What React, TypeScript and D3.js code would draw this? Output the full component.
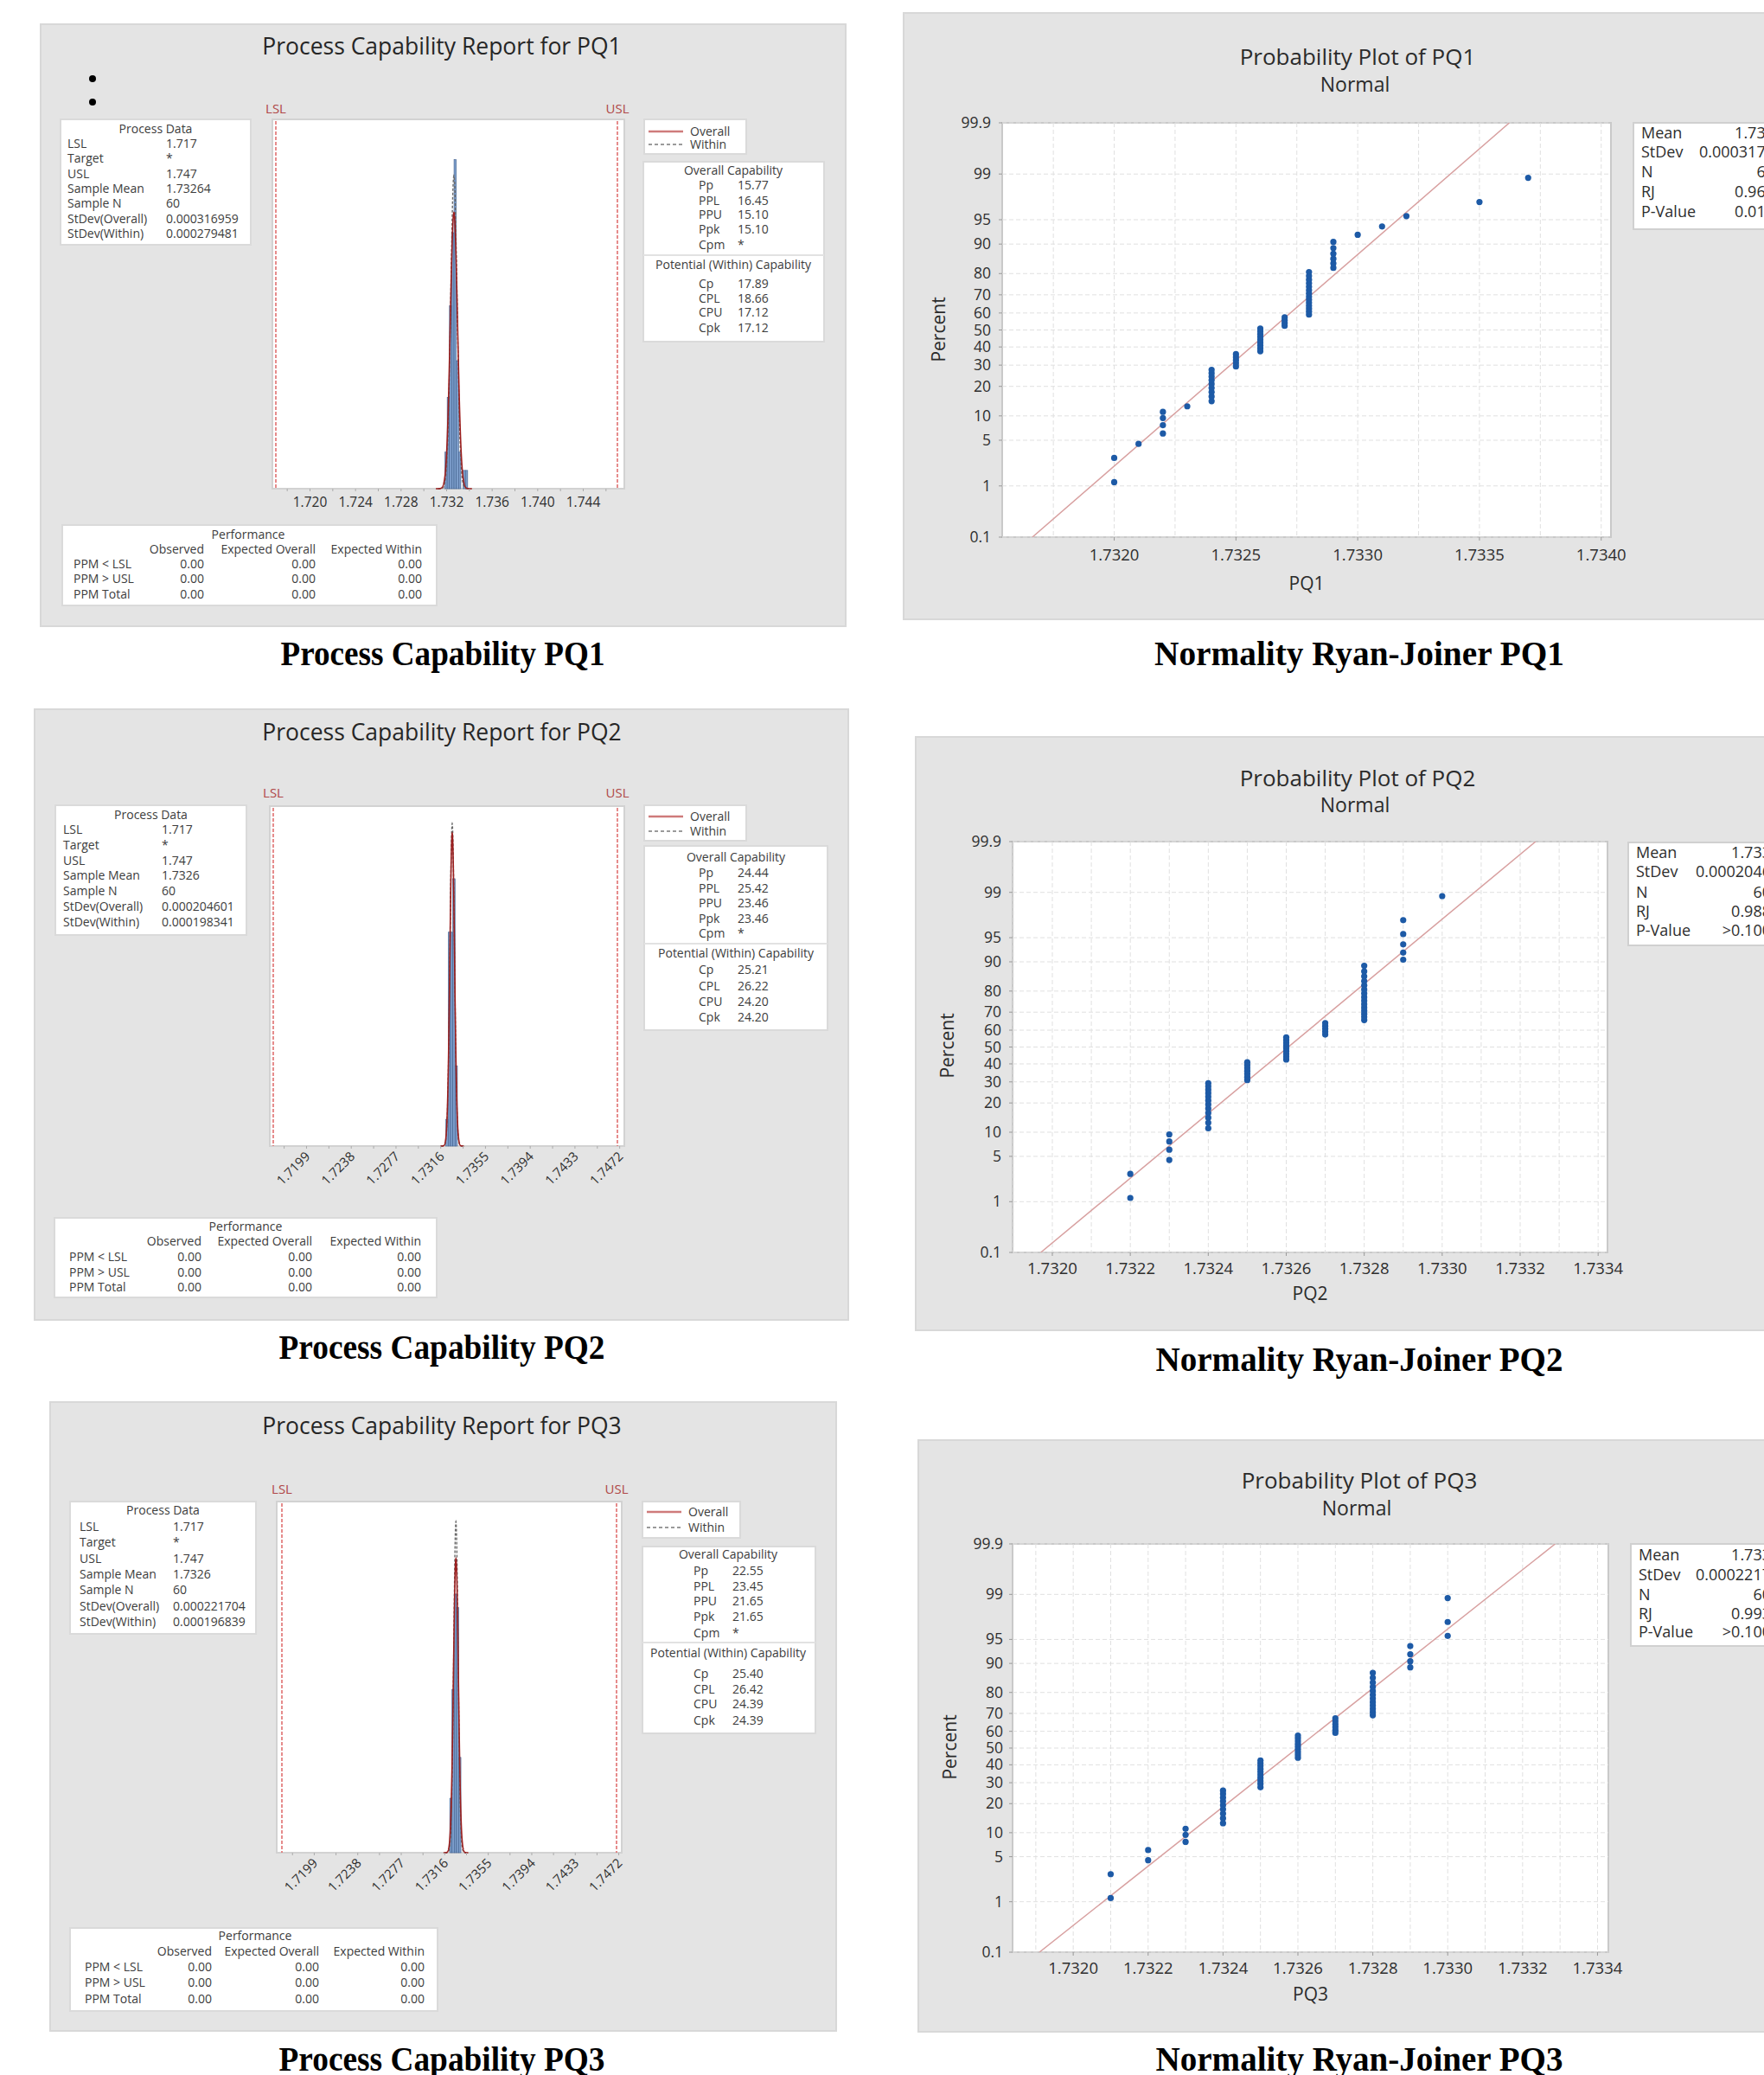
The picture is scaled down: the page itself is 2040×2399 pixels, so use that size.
import React from 'react';
import * as d3 from 'd3';

const W = 2040;
const H = 2399;
const FONT = "'Open Sans', 'Noto Sans', sans-serif";
const SERIF = "'Liberation Serif', 'Times New Roman', serif";

const PQ1_VALUES = [
  1.7320, 1.7320, 1.7321, 1.7322, 1.7322, 1.7322, 1.7322, 1.7323,
  1.7324, 1.7324, 1.7324, 1.7324, 1.7324, 1.7324, 1.7324, 1.7324, 1.7324,
  1.7325, 1.7325, 1.7325, 1.7325, 1.7325,
  1.7326, 1.7326, 1.7326, 1.7326, 1.7326, 1.7326, 1.7326, 1.7326, 1.7326,
  1.7327, 1.7327, 1.7327, 1.7327,
  1.7328, 1.7328, 1.7328, 1.7328, 1.7328, 1.7328, 1.7328, 1.7328, 1.7328, 1.7328, 1.7328, 1.7328, 1.7328, 1.7328,
  1.7329, 1.7329, 1.7329, 1.7329, 1.7329, 1.7329,
  1.7330, 1.7331, 1.7332, 1.7335, 1.7337,
];
const PQ2_VALUES = [
  1.7322, 1.7322,
  1.7323, 1.7323, 1.7323, 1.7323,
  1.7324, 1.7324, 1.7324, 1.7324, 1.7324, 1.7324, 1.7324, 1.7324, 1.7324, 1.7324, 1.7324, 1.7324,
  1.7325, 1.7325, 1.7325, 1.7325, 1.7325, 1.7325, 1.7325,
  1.7326, 1.7326, 1.7326, 1.7326, 1.7326, 1.7326, 1.7326, 1.7326, 1.7326,
  1.7327, 1.7327, 1.7327, 1.7327, 1.7327,
  1.7328, 1.7328, 1.7328, 1.7328, 1.7328, 1.7328, 1.7328, 1.7328, 1.7328, 1.7328, 1.7328, 1.7328, 1.7328, 1.7328, 1.7328,
  1.7329, 1.7329, 1.7329, 1.7329, 1.7329,
  1.7330,
];
const PQ3_VALUES = [
  1.7321, 1.7321,
  1.7322, 1.7322,
  1.7323, 1.7323, 1.7323,
  1.7324, 1.7324, 1.7324, 1.7324, 1.7324, 1.7324, 1.7324, 1.7324, 1.7324,
  1.7325, 1.7325, 1.7325, 1.7325, 1.7325, 1.7325, 1.7325, 1.7325, 1.7325, 1.7325,
  1.7326, 1.7326, 1.7326, 1.7326, 1.7326, 1.7326, 1.7326, 1.7326, 1.7326,
  1.7327, 1.7327, 1.7327, 1.7327, 1.7327, 1.7327,
  1.7328, 1.7328, 1.7328, 1.7328, 1.7328, 1.7328, 1.7328, 1.7328, 1.7328, 1.7328, 1.7328, 1.7328,
  1.7329, 1.7329, 1.7329, 1.7329,
  1.7330, 1.7330, 1.7330,
];

// ---------- text tables ----------
const PROCESS_LABELS = ['LSL', 'Target', 'USL', 'Sample Mean', 'Sample N', 'StDev(Overall)', 'StDev(Within)'];
const PQ1_PROCESS = ['1.717', '*', '1.747', '1.73264', '60', '0.000316959', '0.000279481'];
const PQ2_PROCESS = ['1.717', '*', '1.747', '1.7326', '60', '0.000204601', '0.000198341'];
const PQ3_PROCESS = ['1.717', '*', '1.747', '1.7326', '60', '0.000221704', '0.000196839'];

const OVERALL_LABELS = ['Pp', 'PPL', 'PPU', 'Ppk', 'Cpm'];
const WITHIN_LABELS = ['Cp', 'CPL', 'CPU', 'Cpk'];
const PQ1_OVERALL = ['15.77', '16.45', '15.10', '15.10', '*'];
const PQ1_WITHIN = ['17.89', '18.66', '17.12', '17.12'];
const PQ2_OVERALL = ['24.44', '25.42', '23.46', '23.46', '*'];
const PQ2_WITHIN = ['25.21', '26.22', '24.20', '24.20'];
const PQ3_OVERALL = ['22.55', '23.45', '21.65', '21.65', '*'];
const PQ3_WITHIN = ['25.40', '26.42', '24.39', '24.39'];

const PERF_COLS = ['Observed', 'Expected Overall', 'Expected Within'];
const PERF_ROWS = ['PPM < LSL', 'PPM > USL', 'PPM Total'];
const PQ1_PERF = [['0.00', '0.00', '0.00'], ['0.00', '0.00', '0.00'], ['0.00', '0.00', '0.00']];
const PQ2_PERF = [['0.00', '0.00', '0.00'], ['0.00', '0.00', '0.00'], ['0.00', '0.00', '0.00']];
const PQ3_PERF = [['0.00', '0.00', '0.00'], ['0.00', '0.00', '0.00'], ['0.00', '0.00', '0.00']];

const PQ1_HIST_TICKS = ['1.720', '1.724', '1.728', '1.732', '1.736', '1.740', '1.744'];
const PQ2_HIST_TICKS = ['1.7199', '1.7238', '1.7277', '1.7316', '1.7355', '1.7394', '1.7433', '1.7472'];
const PQ3_HIST_TICKS = ['1.7199', '1.7238', '1.7277', '1.7316', '1.7355', '1.7394', '1.7433', '1.7472'];

const HIST_BIN_START = 1.73185;
const HIST_BIN_END = 1.73405;
const HIST_BIN_STEP = 0.0002;

const STAT_LABELS = ['Mean', 'StDev', 'N', 'RJ', 'P-Value'];
const PQ1_STATS = ['1.733', '0.0003170', '60', '0.968', '0.012'];
const PQ2_STATS = ['1.733', '0.0002046', '60', '0.988', '>0.100'];
const PQ3_STATS = ['1.733', '0.0002217', '60', '0.993', '>0.100'];

const PERCENT_TICKS = [0.1, 1, 5, 10, 20, 30, 40, 50, 60, 70, 80, 90, 95, 99, 99.9];
const PP1_TICKS = [1.732, 1.7325, 1.733, 1.7335, 1.734];
const PP2_TICKS = [1.732, 1.7322, 1.7324, 1.7326, 1.7328, 1.733, 1.7332, 1.7334];
const PP3_TICKS = [1.732, 1.7322, 1.7324, 1.7326, 1.7328, 1.733, 1.7332, 1.7334];

// ---------- math helpers ----------
function normInv(p: number): number {
  const a = [-3.969683028665376e1, 2.209460984245205e2, -2.759285104469687e2, 1.38357751867269e2, -3.066479806614716e1, 2.506628277459239];
  const b = [-5.447609879822406e1, 1.615858368580409e2, -1.556989798598866e2, 6.680131188771972e1, -1.328068155288572e1];
  const c = [-7.784894002430293e-3, -3.223964580411365e-1, -2.400758277161838, -2.549732539343734, 4.374664141464968, 2.938163982698783];
  const d = [7.784695709041462e-3, 3.224671290700398e-1, 2.445134137142996, 3.754408661907416];
  const pl = 0.02425;
  let q: number, r: number;
  if (p < pl) {
    q = Math.sqrt(-2 * Math.log(p));
    return (((((c[0] * q + c[1]) * q + c[2]) * q + c[3]) * q + c[4]) * q + c[5]) / ((((d[0] * q + d[1]) * q + d[2]) * q + d[3]) * q + 1);
  }
  if (p <= 1 - pl) {
    q = p - 0.5;
    r = q * q;
    return ((((((a[0] * r + a[1]) * r + a[2]) * r + a[3]) * r + a[4]) * r + a[5]) * q) / (((((b[0] * r + b[1]) * r + b[2]) * r + b[3]) * r + b[4]) * r + 1);
  }
  q = Math.sqrt(-2 * Math.log(1 - p));
  return -(((((c[0] * q + c[1]) * q + c[2]) * q + c[3]) * q + c[4]) * q + c[5]) / ((((d[0] * q + d[1]) * q + d[2]) * q + d[3]) * q + 1);
}
const normPdf = (x: number, m: number, s: number) => Math.exp(-0.5 * ((x - m) / s) ** 2) / (s * Math.sqrt(2 * Math.PI));

// ---------- layouts ----------
const CAP_LAYOUTS = [
  {
    bg: [47, 28, 931, 696], titleX: 511, titleY: 63, bullets: true,
    pd: { x: 70, y: 138, w: 220, h: 145, headY: 154, rowY0: 171, rowDy: 17.3, labelX: 78, valueX: 192 },
    plot: { x: 315, y: 138, w: 407, h: 427, lslX: 319, uslX: 714, peakFrac: 0.848, specLabelY: 131, tickLabelY: 586, rotate: false },
    legend: { x: 745, y: 138, w: 118, h: 40, y1: 152, y2: 167, lx0: 750, lx1: 790, tx: 798 },
    cap: { x: 744, y: 187, w: 209, h: 208, head1: 202, rows1: [219, 237, 253, 270, 288], sep: 295, head2: 311, rows2: [333, 350, 366, 384], labelX: 808, valueX: 853, cx: 848 },
    perf: { x: 72, y: 607, w: 433, h: 93, titleX: 287, titleY: 623, headY: 640, rowsY: [657, 674, 692], cols: [236, 365, 488], labelX: 85 },
    caption: { x: 512, y: 769, len: 375 },
  },
  {
    bg: [40, 820, 941, 706], titleX: 511, titleY: 856, bullets: false,
    pd: { x: 64, y: 931, w: 221, h: 150, headY: 947, rowY0: 964, rowDy: 17.8, labelX: 73, valueX: 187 },
    plot: { x: 312, y: 932, w: 410, h: 393, lslX: 316, uslX: 714, peakFrac: 0.949, specLabelY: 922, tickLabelY: 0, rotate: true },
    legend: { x: 745, y: 931, w: 118, h: 41, y1: 944, y2: 961, lx0: 750, lx1: 790, tx: 798 },
    cap: { x: 745, y: 978, w: 212, h: 213, head1: 996, rows1: [1014, 1032, 1049, 1067, 1084], sep: 1091, head2: 1107, rows2: [1126, 1145, 1163, 1181], labelX: 808, valueX: 853, cx: 851 },
    perf: { x: 63, y: 1408, w: 442, h: 92, titleX: 284, titleY: 1423, headY: 1440, rowsY: [1458, 1476, 1493], cols: [233, 361, 487], labelX: 80 },
    caption: { x: 511, y: 1571, len: 377 },
  },
  {
    bg: [58, 1621, 909, 727], titleX: 511, titleY: 1658, bullets: false,
    pd: { x: 81, y: 1736, w: 215, h: 153, headY: 1751, rowY0: 1770, rowDy: 18.3, labelX: 92, valueX: 200 },
    plot: { x: 320, y: 1736, w: 399, h: 406, lslX: 326, uslX: 713, peakFrac: 0.943, specLabelY: 1727, tickLabelY: 0, rotate: true },
    legend: { x: 743, y: 1736, w: 113, h: 42, y1: 1748, y2: 1766, lx0: 748, lx1: 788, tx: 796 },
    cap: { x: 743, y: 1788, w: 200, h: 216, head1: 1802, rows1: [1821, 1839, 1856, 1874, 1893], sep: 1899, head2: 1916, rows2: [1940, 1958, 1975, 1994], labelX: 802, valueX: 847, cx: 842 },
    perf: { x: 81, y: 2229, w: 425, h: 96, titleX: 295, titleY: 2243, headY: 2261, rowsY: [2279, 2297, 2316], cols: [245, 369, 491], labelX: 98 },
    caption: { x: 511, y: 2394, len: 377 },
  },
];

const PROB_LAYOUTS = [
  {
    bg: [1045, 15, 995, 701], titleX: 1570, titleY: 75, normalY: 106,
    frame: { x: 1159, y: 142, w: 704, h: 479 }, xDomain: [1.73154, 1.73404], minorStep: 0.00025,
    tickLabelY: 648, axisTitleY: 682, percentX: 1093, percentY: 381, yLabelX: 1146,
    stats: { x: 1889, y: 142, w: 170, h: 123, rowsY: [160, 182, 205, 228, 251], labelX: 1898, valueX: 2052 },
    caption: { x: 1572, y: 769, len: 474 },
  },
  {
    bg: [1059, 852, 981, 686], titleX: 1570, titleY: 909, normalY: 939,
    frame: { x: 1171, y: 973, w: 688, h: 475 }, xDomain: [1.731898, 1.733424], minorStep: 0.0001,
    tickLabelY: 1473, axisTitleY: 1503, percentX: 1103, percentY: 1209, yLabelX: 1158,
    stats: { x: 1883, y: 974, w: 170, h: 119, rowsY: [992, 1014, 1038, 1060, 1082], labelX: 1892, valueX: 2048 },
    caption: { x: 1572, y: 1585, len: 471 },
  },
  {
    bg: [1062, 1665, 978, 684], titleX: 1572, titleY: 1721, normalY: 1752,
    frame: { x: 1171, y: 1785, w: 689, h: 472 }, xDomain: [1.731838, 1.733429], minorStep: 0.0001,
    tickLabelY: 2282, axisTitleY: 2313, percentX: 1106, percentY: 2020, yLabelX: 1160,
    stats: { x: 1886, y: 1785, w: 170, h: 118, rowsY: [1804, 1827, 1850, 1872, 1893], labelX: 1895, valueX: 2048 },
    caption: { x: 1572, y: 2394, len: 471 },
  },
];

const CAP_PANELS = [
  { name: 'PQ1', values: PQ1_VALUES, process: PQ1_PROCESS, overall: PQ1_OVERALL, within: PQ1_WITHIN, perf: PQ1_PERF, ticks: PQ1_HIST_TICKS },
  { name: 'PQ2', values: PQ2_VALUES, process: PQ2_PROCESS, overall: PQ2_OVERALL, within: PQ2_WITHIN, perf: PQ2_PERF, ticks: PQ2_HIST_TICKS },
  { name: 'PQ3', values: PQ3_VALUES, process: PQ3_PROCESS, overall: PQ3_OVERALL, within: PQ3_WITHIN, perf: PQ3_PERF, ticks: PQ3_HIST_TICKS },
];
const PROB_PANELS = [
  { name: 'PQ1', values: PQ1_VALUES, stats: PQ1_STATS, ticks: PP1_TICKS },
  { name: 'PQ2', values: PQ2_VALUES, stats: PQ2_STATS, ticks: PP2_TICKS },
  { name: 'PQ3', values: PQ3_VALUES, stats: PQ3_STATS, ticks: PP3_TICKS },
];

const SMALL = 14;
const TXT = '#3c3c3c';

function T({ x, y, children, anchor = 'start', size = SMALL, fill = TXT, weight = 400, family = FONT }: any) {
  return (
    <text x={x} y={y} textAnchor={anchor} fontSize={size} fill={fill} fontWeight={weight} fontFamily={family}>
      {children}
    </text>
  );
}

function CapabilityPanel({ panel, L }: any) {
  const lsl = parseFloat(panel.process[0]);
  const usl = parseFloat(panel.process[2]);
  const mean = parseFloat(panel.process[3]);
  const sdO = parseFloat(panel.process[5]);
  const sdW = parseFloat(panel.process[6]);
  const p = L.plot;
  const x = d3.scaleLinear().domain([lsl, usl]).range([p.lslX, p.uslX]);
  const ymax = normPdf(mean, mean, sdW) / p.peakFrac;
  const y = d3.scaleLinear().domain([0, ymax]).range([p.y + p.h, p.y]);
  const n = panel.values.length;
  const thresholds = d3.range(HIST_BIN_START, HIST_BIN_END + 1e-9, HIST_BIN_STEP);
  const bins = d3.bin<number, number>().domain([HIST_BIN_START, HIST_BIN_END]).thresholds(thresholds)(panel.values);
  const curve = (sd: number) => {
    const xs = d3.range(mean - 5 * sd, mean + 5 * sd, sd / 25);
    return d3.line<number>().x((v) => x(v)).y((v) => y(normPdf(v, mean, sd)))(xs) as string;
  };
  const tickVals = panel.ticks.map((t: string) => parseFloat(t));
  const step = tickVals[1] - tickVals[0];
  const minor: number[] = [];
  tickVals.forEach((t: number) => { minor.push(t); minor.push(t - step / 2); });
  minor.push(tickVals[tickVals.length - 1] + step / 2);
  const bottom = p.y + p.h;
  const [bx, by, bw, bh] = L.bg;

  return (
    <g>
      <rect x={bx} y={by} width={bw} height={bh} fill="#e4e4e4" stroke="#d8d8d8" strokeWidth={2} />
      <T x={L.titleX} y={L.titleY} anchor="middle" size={26.5} fill="#262626">{`Process Capability Report for ${panel.name}`}</T>
      {L.bullets && (
        <g>
          <circle cx={107} cy={91} r={4} fill="#000" />
          <circle cx={107} cy={118} r={4} fill="#000" />
        </g>
      )}
      {/* process data */}
      <rect x={L.pd.x} y={L.pd.y} width={L.pd.w} height={L.pd.h} fill="#fff" stroke="#dadada" strokeWidth={2} />
      <T x={L.pd.x + L.pd.w / 2} y={L.pd.headY} anchor="middle">Process Data</T>
      {PROCESS_LABELS.map((lab, i) => (
        <g key={lab}>
          <T x={L.pd.labelX} y={L.pd.rowY0 + i * L.pd.rowDy}>{lab}</T>
          <T x={L.pd.valueX} y={L.pd.rowY0 + i * L.pd.rowDy}>{panel.process[i]}</T>
        </g>
      ))}
      {/* histogram */}
      <rect x={p.x} y={p.y} width={p.w} height={p.h} fill="#fff" stroke="#d2d2d2" strokeWidth={2} />
      {bins.filter((b) => b.length > 0).map((b, i) => {
        const dens = b.length / (n * ((b.x1 as number) - (b.x0 as number)));
        const x0 = x(b.x0 as number);
        const x1 = x(b.x1 as number);
        return <rect key={i} x={x0} y={y(dens)} width={Math.max(1, x1 - x0)} height={bottom - y(dens)} fill="#7c9dca" stroke="#3f5f8e" strokeWidth={0.6} />;
      })}
      <path d={curve(sdW)} fill="none" stroke="#6a6a6a" strokeWidth={1.4} strokeDasharray="3,2" />
      <path d={curve(sdO)} fill="none" stroke="#9c1f1f" strokeWidth={1.6} />
      <line x1={x(lsl)} x2={x(lsl)} y1={p.y + 2} y2={bottom} stroke="#e07070" strokeWidth={1.6} strokeDasharray="4,2" />
      <line x1={x(usl)} x2={x(usl)} y1={p.y + 2} y2={bottom} stroke="#e07070" strokeWidth={1.6} strokeDasharray="4,2" />
      <T x={x(lsl)} y={p.specLabelY} anchor="middle" size={15} fill="#b04848">LSL</T>
      <T x={x(usl)} y={p.specLabelY} anchor="middle" size={15} fill="#b04848">USL</T>
      {minor.filter((v) => x(v) > p.x && x(v) < p.x + p.w).map((v, i) => (
        <line key={i} x1={x(v)} x2={x(v)} y1={bottom} y2={bottom + 3} stroke="#aaa" strokeWidth={1} />
      ))}
      {panel.ticks.map((t: string) => {
        const v = parseFloat(t);
        if (!p.rotate) {
          return <T key={t} x={x(v)} y={p.tickLabelY} anchor="middle" size={15.5} fill="#2e2e2e">{t}</T>;
        }
        return (
          <text key={t} transform={`translate(${x(v) + 5},${bottom + 13}) rotate(-45)`} textAnchor="end" fontSize={15} fill="#2e2e2e" fontFamily={FONT}>{t}</text>
        );
      })}
      {/* legend */}
      <rect x={L.legend.x} y={L.legend.y} width={L.legend.w} height={L.legend.h} fill="#fff" stroke="#dadada" strokeWidth={2} />
      <line x1={L.legend.lx0} x2={L.legend.lx1} y1={L.legend.y1} y2={L.legend.y1} stroke="#cf7b7b" strokeWidth={2.5} />
      <line x1={L.legend.lx0} x2={L.legend.lx1} y1={L.legend.y2} y2={L.legend.y2} stroke="#9a9a9a" strokeWidth={2} strokeDasharray="4,3" />
      <T x={L.legend.tx} y={L.legend.y1 + 5}>Overall</T>
      <T x={L.legend.tx} y={L.legend.y2 + 5}>Within</T>
      {/* capability */}
      <rect x={L.cap.x} y={L.cap.y} width={L.cap.w} height={L.cap.h} fill="#fff" stroke="#dadada" strokeWidth={2} />
      <T x={L.cap.cx} y={L.cap.head1} anchor="middle">Overall Capability</T>
      {OVERALL_LABELS.map((lab, i) => (
        <g key={lab}>
          <T x={L.cap.labelX} y={L.cap.rows1[i]}>{lab}</T>
          <T x={L.cap.valueX} y={L.cap.rows1[i]}>{panel.overall[i]}</T>
        </g>
      ))}
      <line x1={L.cap.x} x2={L.cap.x + L.cap.w} y1={L.cap.sep} y2={L.cap.sep} stroke="#e2e2e2" strokeWidth={2} />
      <T x={L.cap.cx} y={L.cap.head2} anchor="middle">Potential (Within) Capability</T>
      {WITHIN_LABELS.map((lab, i) => (
        <g key={lab}>
          <T x={L.cap.labelX} y={L.cap.rows2[i]}>{lab}</T>
          <T x={L.cap.valueX} y={L.cap.rows2[i]}>{panel.within[i]}</T>
        </g>
      ))}
      {/* performance */}
      <rect x={L.perf.x} y={L.perf.y} width={L.perf.w} height={L.perf.h} fill="#fff" stroke="#dadada" strokeWidth={2} />
      <T x={L.perf.titleX} y={L.perf.titleY} anchor="middle">Performance</T>
      {PERF_COLS.map((c, j) => (
        <T key={c} x={L.perf.cols[j]} y={L.perf.headY} anchor="end">{c}</T>
      ))}
      {PERF_ROWS.map((r, i) => (
        <g key={r}>
          <T x={L.perf.labelX} y={L.perf.rowsY[i]}>{r}</T>
          {panel.perf[i].map((v: string, j: number) => (
            <T key={j} x={L.perf.cols[j]} y={L.perf.rowsY[i]} anchor="end">{v}</T>
          ))}
        </g>
      ))}
      <text x={L.caption.x} y={L.caption.y} textAnchor="middle" fontFamily={SERIF} fontWeight={700} fontSize={40} fill="#000"
        textLength={L.caption.len} lengthAdjust="spacingAndGlyphs">{`Process Capability ${panel.name}`}</text>
    </g>
  );
}

function ProbPanel({ panel, L }: any) {
  const f = L.frame;
  const x = d3.scaleLinear().domain(L.xDomain).range([f.x, f.x + f.w]);
  const zTop = normInv(0.999);
  const y = d3.scaleLinear().domain([-zTop, zTop]).range([f.y + f.h, f.y]);
  const vals = [...panel.values].sort((a: number, b: number) => a - b);
  const n = vals.length;
  const mean = d3.mean(vals) as number;
  const sd = d3.deviation(vals) as number;
  const minor = d3.range(Math.ceil(L.xDomain[0] / L.minorStep) * L.minorStep, L.xDomain[1], L.minorStep);
  const fmt = d3.format('.4f');
  const [bx, by, bw, bh] = L.bg;
  const lineD = d3.line<number>().x((z) => x(mean + z * sd)).y((z) => y(z))([-zTop, zTop]) as string;

  return (
    <g>
      <rect x={bx} y={by} width={bw + 10} height={bh} fill="#e4e4e4" stroke="#d8d8d8" strokeWidth={2} />
      <T x={L.titleX} y={L.titleY} anchor="middle" size={26} fill="#2b2b2b">{`Probability Plot of ${panel.name}`}</T>
      <T x={L.titleX - 3} y={L.normalY} anchor="middle" size={23} fill="#2b2b2b">Normal</T>
      <clipPath id={`clip-${panel.name}`}>
        <rect x={f.x} y={f.y} width={f.w} height={f.h} />
      </clipPath>
      <rect x={f.x} y={f.y} width={f.w} height={f.h} fill="#fff" stroke="#c9c9c9" strokeWidth={2} />
      {minor.map((v: number, i: number) => (
        <line key={i} x1={x(v)} x2={x(v)} y1={f.y} y2={f.y + f.h} stroke="#e0e0e0" strokeWidth={1} strokeDasharray="5,3" />
      ))}
      {PERCENT_TICKS.map((pc) => (
        <line key={pc} x1={f.x} x2={f.x + f.w} y1={y(normInv(pc / 100))} y2={y(normInv(pc / 100))} stroke="#e0e0e0" strokeWidth={1} strokeDasharray="5,3" />
      ))}
      <g clipPath={`url(#clip-${panel.name})`}>
        <path d={lineD} stroke="#d8a0a0" strokeWidth={1.5} fill="none" />
      </g>
      {vals.map((v: number, i: number) => (
        <circle key={i} cx={x(v)} cy={y(normInv((i + 1 - 0.3) / (n + 0.4)))} r={3.6} fill="#1d5aa6" />
      ))}
      {PERCENT_TICKS.map((pc) => (
        <g key={pc}>
          <line x1={f.x - 4} x2={f.x} y1={y(normInv(pc / 100))} y2={y(normInv(pc / 100))} stroke="#999" />
          <T x={L.yLabelX} y={y(normInv(pc / 100)) + 6} anchor="end" size={17.5} fill="#2e2e2e">{String(pc)}</T>
        </g>
      ))}
      {panel.ticks.map((t: number) => (
        <g key={t}>
          <line x1={x(t)} x2={x(t)} y1={f.y + f.h} y2={f.y + f.h + 4} stroke="#999" />
          <T x={x(t)} y={L.tickLabelY} anchor="middle" size={18.5} fill="#2e2e2e">{fmt(t)}</T>
        </g>
      ))}
      <T x={f.x + f.w / 2} y={L.axisTitleY} anchor="middle" size={21} fill="#2b2b2b">{panel.name}</T>
      <text transform={`translate(${L.percentX},${L.percentY}) rotate(-90)`} textAnchor="middle" fontSize={21} fill="#2b2b2b" fontFamily={FONT}>Percent</text>
      <rect x={L.stats.x} y={L.stats.y} width={L.stats.w} height={L.stats.h} fill="#fff" stroke="#d0d0d0" strokeWidth={2} />
      {STAT_LABELS.map((lab, i) => (
        <g key={lab}>
          <T x={L.stats.labelX} y={L.stats.rowsY[i]} size={18} fill="#2e2e2e">{lab}</T>
          <T x={L.stats.valueX} y={L.stats.rowsY[i]} anchor="end" size={18} fill="#2e2e2e">{panel.stats[i]}</T>
        </g>
      ))}
      <text x={L.caption.x} y={L.caption.y} textAnchor="middle" fontFamily={SERIF} fontWeight={700} fontSize={40} fill="#000"
        textLength={L.caption.len} lengthAdjust="spacingAndGlyphs">{`Normality Ryan-Joiner ${panel.name}`}</text>
    </g>
  );
}

export default function App() {
  return (
    <svg width={W} height={H} style={{ position: 'absolute', left: 0, top: 0, display: 'block', background: '#fff' }}>
      <rect x={0} y={0} width={W} height={H} fill="#fff" />
      {CAP_PANELS.map((p, i) => (
        <CapabilityPanel key={p.name} panel={p} L={CAP_LAYOUTS[i]} />
      ))}
      {PROB_PANELS.map((p, i) => (
        <ProbPanel key={p.name} panel={p} L={PROB_LAYOUTS[i]} />
      ))}
    </svg>
  );
}
